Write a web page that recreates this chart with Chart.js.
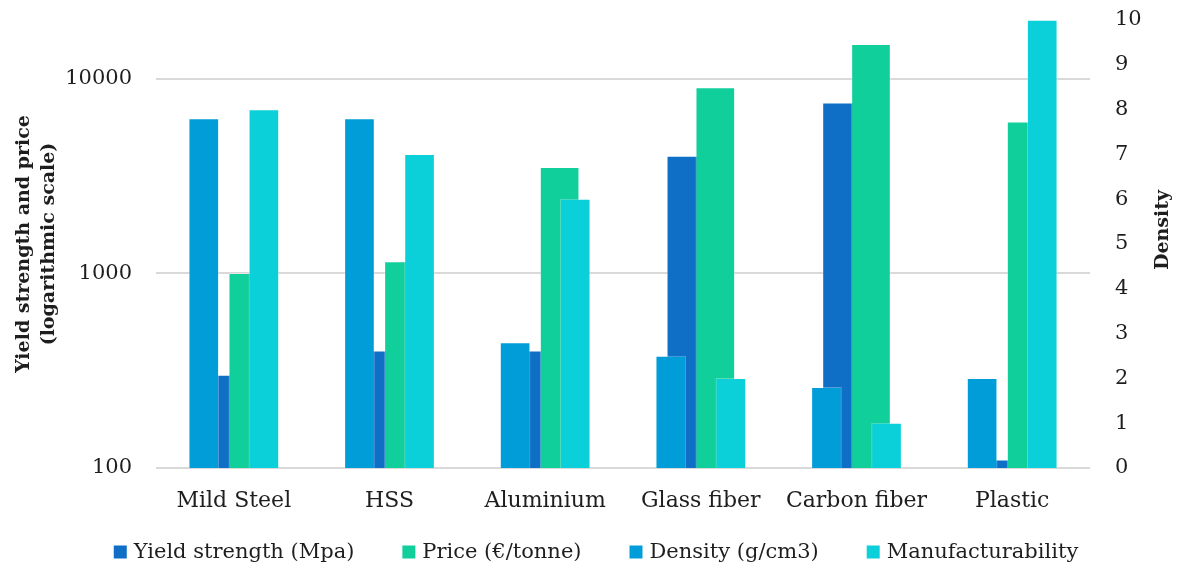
<!DOCTYPE html>
<html>
<head>
<meta charset="utf-8">
<title>Material properties</title>
<script src="https://cdn.jsdelivr.net/npm/chart.js@4.4.1/dist/chart.umd.min.js"></script>
<style>
  html, body { margin: 0; padding: 0; background: #ffffff; }
  #wrap { width: 1180px; height: 569px; position: relative; }
</style>
</head>
<body>
<div id="wrap"><canvas id="chart" width="1180" height="569"></canvas></div>
<script>
// Materials compared along the category axis
const materials = ['Mild Steel', 'HSS', 'Aluminium', 'Glass fiber', 'Carbon fiber', 'Plastic'];

// Left (logarithmic) axis series
const yieldStrength = [300, 400, 400, 4000, 7500, 110];     // Mpa
const price = [1000, 1150, 3500, 9000, 15000, 6000];         // €/tonne

// Right (linear) axis series
const density = [7.8, 7.8, 2.8, 2.5, 1.8, 2.0];              // g/cm3
const manufacturability = [8, 7, 6, 2, 1, 10];

// Tick labels
const logTicks = [100, 1000, 10000];
const densityTicks = [0, 1, 2, 3, 4, 5, 6, 7, 8, 9, 10];

const SERIF = '"DejaVu Serif", "Liberation Serif", serif';
const INK = '#1e1e1e';
const GRID = '#d9d9d9';
const EDGE = 'rgba(255, 255, 255, 0.3)';

// Two overlapping clusters per material: the log-axis pair sits in the middle
// (bars overlapping by a quarter), the right-axis pair straddles it.
const SLOT = { yield: -0.093, price: 0.093, density: -0.193, manuf: 0.193 }; // in category units
const WIDE = 39, NARROW = 30;                                                   // bar thickness, px

const placed = (values, slot) => values.map((v, i) => ({ x: i + slot, y: v }));

// Paint datasets in their declared order, so later series sit on top of earlier ones
const paintInDatasetOrder = {
  id: 'paintInDatasetOrder',
  beforeDatasetsDraw(chart) {
    const ctx = chart.ctx;
    const area = chart.chartArea;
    const metas = chart.getSortedVisibleDatasetMetas().slice().sort((a, b) => a.index - b.index);
    ctx.save();
    ctx.beginPath();
    ctx.rect(area.left, area.top - 2, area.right - area.left, area.bottom - area.top + 2);
    ctx.clip();
    metas.forEach(meta => meta.controller.draw());
    ctx.restore();
    return false;
  }
};

// Right axis title, reading bottom to top like the left one
const rightAxisTitle = {
  id: 'rightAxisTitle',
  afterDraw(chart) {
    const ctx = chart.ctx;
    const area = chart.chartArea;
    ctx.save();
    ctx.translate(chart.width - 17, (area.top + area.bottom) / 2 - 14);
    ctx.rotate(-Math.PI / 2);
    ctx.font = 'bold 19px ' + SERIF;
    ctx.fillStyle = INK;
    ctx.textAlign = 'center';
    ctx.textBaseline = 'middle';
    ctx.fillText('Density', 0, 0);
    ctx.restore();
  }
};

// Single-row legend under the category labels
const bottomLegend = {
  id: 'bottomLegend',
  afterDraw(chart) {
    const ctx = chart.ctx;
    const box = 13, textGap = 7, itemGap = 48, y = 552;
    ctx.save();
    ctx.font = '21px ' + SERIF;
    const items = chart.data.datasets.map(ds => ({
      label: ds.label, color: ds.backgroundColor, w: ctx.measureText(ds.label).width
    }));
    const total = items.reduce((s, it) => s + box + textGap + it.w, 0) + itemGap * (items.length - 1);
    let x = chart.width / 2 + 6 - total / 2;
    ctx.textBaseline = 'middle';
    ctx.textAlign = 'left';
    items.forEach(it => {
      ctx.fillStyle = it.color;
      ctx.fillRect(x, y - box / 2, box, box);
      x += box + textGap;
      ctx.fillStyle = INK;
      ctx.fillText(it.label, x, y + 1);
      x += it.w + itemGap;
    });
    ctx.restore();
  }
};

const noEdgePadding = scale => { scale.paddingTop = 0; scale.paddingBottom = 0; };

new Chart(document.getElementById('chart'), {
  type: 'bar',
  data: {
    labels: materials,
    datasets: [
      {
        label: 'Yield strength (Mpa)', data: placed(yieldStrength, SLOT.yield),
        backgroundColor: '#0F6FC6', xAxisID: 'xb', yAxisID: 'y', barThickness: WIDE
      },
      {
        label: 'Price (€/tonne)', data: placed(price, SLOT.price),
        backgroundColor: '#10CF9B', xAxisID: 'xb', yAxisID: 'y', barThickness: WIDE
      },
      {
        label: 'Density (g/cm3)', data: placed(density, SLOT.density),
        backgroundColor: '#009DD9', xAxisID: 'xb', yAxisID: 'y2', barThickness: NARROW
      },
      {
        label: 'Manufacturability', data: placed(manufacturability, SLOT.manuf),
        backgroundColor: '#0BD0D9', xAxisID: 'xb', yAxisID: 'y2', barThickness: NARROW
      }
    ]
  },
  options: {
    responsive: false,
    animation: false,
    devicePixelRatio: 1,
    datasets: { bar: { grouped: false, borderWidth: 1, borderColor: EDGE, borderSkipped: 'bottom' } },
    layout: { padding: { top: 20, right: 0, bottom: 0, left: 0 } },
    plugins: {
      legend: { display: false },
      tooltip: { enabled: false }
    },
    scales: {
      x: {
        type: 'category',
        position: 'bottom',
        offset: true,
        grid: { display: false },
        border: { display: false },
        ticks: { color: INK, font: { family: SERIF, size: 22 }, padding: 12, maxRotation: 0, autoSkip: false },
        afterFit(scale) { scale.height = 101; }
      },
      xb: {
        type: 'linear',
        display: false,
        offset: false,
        min: -0.5,
        max: materials.length - 0.5,
        grid: { display: false }
      },
      y: {
        type: 'logarithmic',
        position: 'left',
        min: 100,
        max: 20000,
        afterBuildTicks(scale) { scale.ticks = logTicks.map(v => ({ value: v })); },
        grid: { color: GRID, lineWidth: 2, drawTicks: false },
        border: { display: false },
        ticks: {
          color: INK, font: { family: SERIF, size: 21 }, padding: 24,
          callback: v => String(v)
        },
        title: {
          display: true,
          text: ['Yield strength and price', '(logarithmic scale)'],
          color: INK,
          font: { family: SERIF, size: 19, weight: 'bold', lineHeight: 1.35 },
          padding: { top: 11, bottom: 0 }
        },
        afterFit(scale) { scale.width = 156; noEdgePadding(scale); }
      },
      y2: {
        type: 'linear',
        position: 'right',
        min: 0,
        max: 10,
        afterBuildTicks(scale) { scale.ticks = densityTicks.map(v => ({ value: v })); },
        grid: { display: false, drawTicks: false },
        border: { display: false },
        ticks: { color: INK, font: { family: SERIF, size: 21 }, padding: 25 },
        afterFit(scale) { scale.width = 90; noEdgePadding(scale); }
      }
    }
  },
  plugins: [paintInDatasetOrder, rightAxisTitle, bottomLegend]
});
</script>
</body>
</html>
